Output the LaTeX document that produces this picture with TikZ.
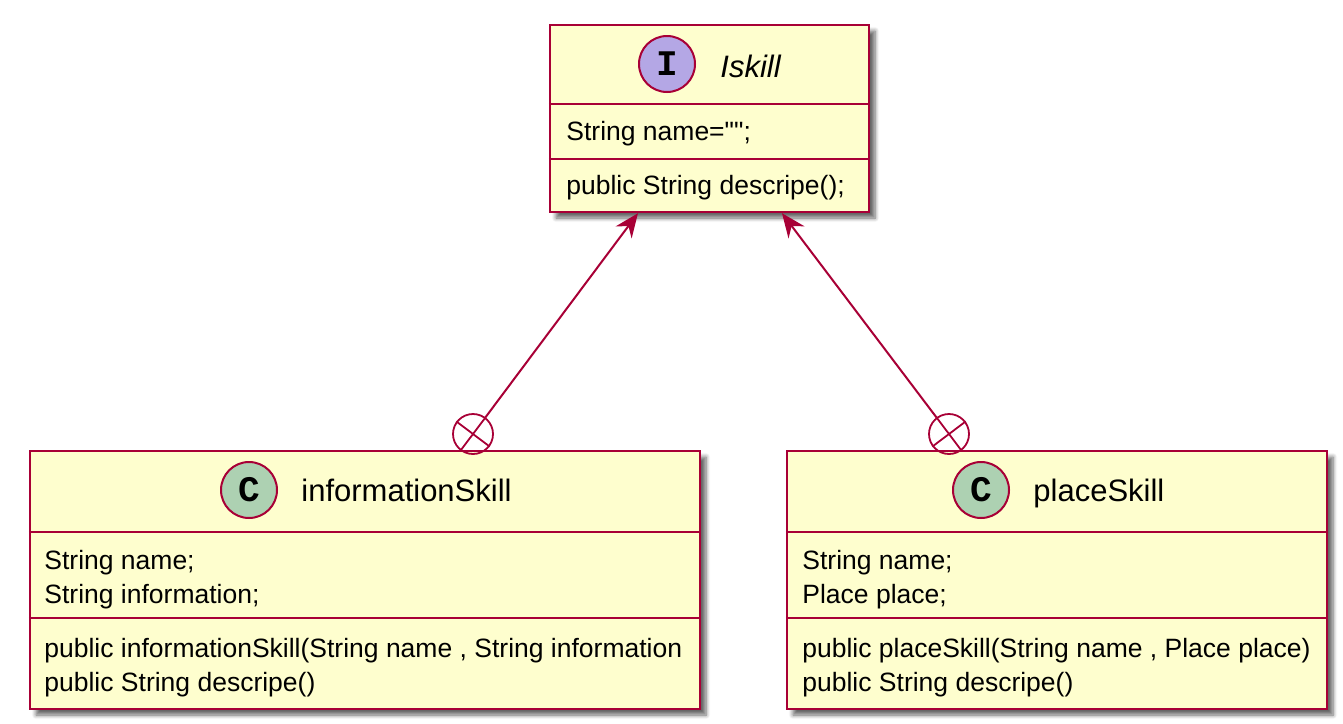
\documentclass[tikz,border=0pt]{standalone}
\usepackage{fontspec}
\setmainfont{Liberation Sans}
\newfontfamily\glyphfont{Liberation Mono}
\usetikzlibrary{arrows.meta,shadows.blur}
\definecolor{umlred}{HTML}{A80036}
\definecolor{umlfill}{HTML}{FEFECE}
\definecolor{ifacecirc}{HTML}{B4A7E5}
\definecolor{classcirc}{HTML}{ADD1B2}
\begin{document}
\begin{tikzpicture}[x=0.5pt,y=-0.5pt,
	classbox/.style={draw=umlred,fill=umlfill,line width=1.2pt,inner sep=0pt,
		blur shadow={shadow xshift=3pt,shadow yshift=-3pt,shadow blur steps=6,shadow opacity=60}},
	divider/.style={draw=umlred,line width=1.2pt},
	glyph/.style={circle,draw=umlred,line width=1pt,minimum size=28pt,inner sep=0pt,
		font=\glyphfont\bfseries\fontsize{18}{18}\selectfont},
	headtext/.style={anchor=base west,inner sep=0pt,font=\fontsize{15.5}{18}\selectfont},
	membtext/.style={anchor=west,align=left,inner sep=0pt,font=\fontsize{13.25}{17}\selectfont},
	xcirc/.style={circle,draw=umlred,line width=0.9pt,minimum size=20pt,inner sep=0pt},
	assoc/.style={draw=umlred,line width=1pt,-{Stealth[length=12pt,width=10pt,inset=4pt]}}]
	\useasboundingbox (0,0) rectangle (1343,723);
	% interface
	\node[classbox,minimum width=159.5pt,minimum height=93.5pt] (iskill) at (709.5,118.5) {};
	\draw[divider] (iskill.west |- 0,104) -- (iskill.east |- 0,104);
	\draw[divider] (iskill.west |- 0,159) -- (iskill.east |- 0,159);
	\node[glyph,fill=ifacecirc] (iskillI) at (667,64) {I};
	\node[headtext,font=\fontsize{15.5}{18}\selectfont\itshape] (iskillname) at (720,77) {Iskill};
	\node[membtext] (iskillattr) at (566,134) {String name=\textquotedbl\textquotedbl;};
	\node[membtext] (iskillmeth) at (566,188) {public String descripe();};
	% informationSkill
	\node[classbox,minimum width=335pt,minimum height=129pt] (info) at (365,580) {};
	\draw[divider] (info.west |- 0,532) -- (info.east |- 0,532);
	\draw[divider] (info.west |- 0,618) -- (info.east |- 0,618);
	\node[glyph,fill=classcirc] (infoC) at (249,490) {C};
	\node[headtext] (infoname) at (301,501) {informationSkill};
	\node[membtext] (infoattr) at (44,580) {String name;\\String information;};
	\node[membtext] (infometh) at (44,668) {public informationSkill(String name , String information\\public String descripe()};
	% placeSkill
	\node[classbox,minimum width=270pt,minimum height=129pt] (place) at (1057,580) {};
	\draw[divider] (place.west |- 0,532) -- (place.east |- 0,532);
	\draw[divider] (place.west |- 0,618) -- (place.east |- 0,618);
	\node[glyph,fill=classcirc] (placeC) at (981,490) {C};
	\node[headtext] (placename) at (1033,501) {placeSkill};
	\node[membtext] (placeattr) at (802,580) {String name;\\Place place;};
	\node[membtext] (placemeth) at (802,668) {public placeSkill(String name , Place place)\\public String descripe()};
	% nested links
	\node[xcirc] (jn1) at (473,434) {};
	\draw[umlred,line width=0.9pt] (jn1.53) -- (jn1.233) (jn1.143) -- (jn1.323);
	\draw[assoc] (jn1) -- ([xshift=-35.75pt]iskill.south);
	\node[xcirc] (jn2) at (949,434) {};
	\draw[umlred,line width=0.9pt] (jn2.127) -- (jn2.307) (jn2.37) -- (jn2.217);
	\draw[assoc] (jn2) -- ([xshift=36.25pt]iskill.south);
\end{tikzpicture}
\end{document}
